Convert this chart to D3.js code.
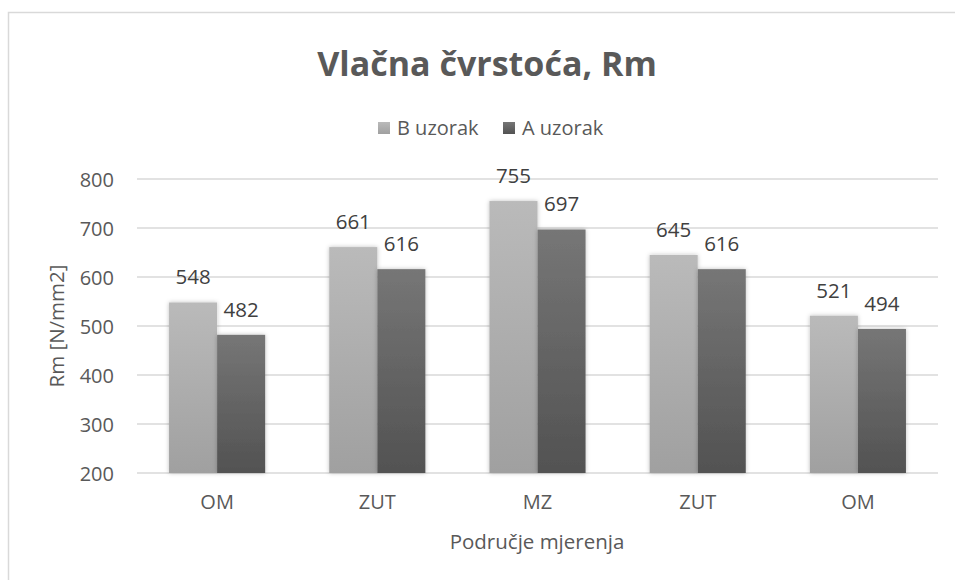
<!DOCTYPE html>
<html>
<head>
<meta charset="utf-8">
<script src="https://cdn.jsdelivr.net/npm/d3@7"></script>
<style>
  body { margin: 0; background: #fff; }
  svg { display: block; font-family: "Open Sans", sans-serif; }
</style>
</head>
<body>
<svg id="chart" width="955" height="580"></svg>
<script>
// data
var categories = ["OM", "ZUT", "MZ", "ZUT", "OM"];
var seriesNames = ["B uzorak", "A uzorak"];
var seriesB = [548, 661, 755, 645, 521];
var seriesA = [482, 616, 697, 616, 494];
var yTicks = [200, 300, 400, 500, 600, 700, 800];

var W = 955, H = 580;
var margin = {left: 137, right: 17, top: 179, bottom: 107};
var svg = d3.select("#chart");

var defs = svg.append("defs");
function grad(id, top, bottom) {
  var g = defs.append("linearGradient").attr("id", id)
      .attr("x1", 0).attr("y1", 0).attr("x2", 0).attr("y2", 1);
  g.append("stop").attr("offset", "0%").attr("stop-color", top);
  g.append("stop").attr("offset", "100%").attr("stop-color", bottom);
}
grad("gB", "#bababa", "#a0a0a0");
grad("gA", "#767676", "#525252");
var colors = ["url(#gB)", "url(#gA)"];

var shadow = defs.append("filter").attr("id", "shadow")
    .attr("x", "-20%").attr("y", "-10%").attr("width", "140%").attr("height", "120%");
shadow.append("feDropShadow").attr("dx", 0).attr("dy", 0).attr("stdDeviation", 2)
    .attr("flood-color", "#000").attr("flood-opacity", 0.25);

// chart frame (clipped by the picture at right and bottom)
svg.append("rect")
   .attr("x", 8.5).attr("y", 12.5).attr("width", 960).attr("height", 600)
   .attr("fill", "#fff").attr("stroke", "#d9d9d9").attr("stroke-width", 1.5);

var x0 = d3.scaleBand().domain(d3.range(categories.length))
    .range([margin.left, W - margin.right]).paddingInner(0.4).paddingOuter(0.2);
var x1 = d3.scaleBand().domain(d3.range(seriesNames.length))
    .range([0, x0.bandwidth()]);
var y = d3.scaleLinear().domain([200, 800]).range([H - margin.bottom, margin.top]);

// gridlines
svg.append("g").selectAll("line")
   .data(yTicks).enter().append("line")
   .attr("x1", margin.left).attr("x2", W - margin.right)
   .attr("y1", function(d) { return y(d); }).attr("y2", function(d) { return y(d); })
   .attr("stroke", "#d9d9d9").attr("stroke-width", 1.3);

// y axis labels
var yAxis = svg.append("g")
   .attr("transform", "translate(" + (margin.left - 23) + ",0)")
   .call(d3.axisLeft(y).tickValues(yTicks).tickSize(0).tickPadding(0));
yAxis.select(".domain").remove();
yAxis.selectAll("text").attr("fill", "#595959").style("font-size", "20px")
   .style("font-family", "'Open Sans', sans-serif").attr("dy", "0.35em");

// x axis labels
var xAxis = svg.append("g")
   .attr("transform", "translate(0," + y(200) + ")")
   .call(d3.axisBottom(x0).tickFormat(function(i) { return categories[i]; }).tickSize(0).tickPadding(22));
xAxis.select(".domain").remove();
xAxis.selectAll("text").attr("fill", "#595959").style("font-size", "20px")
   .style("font-family", "'Open Sans', sans-serif");

// bars
var rows = categories.map(function(c, i) { return [seriesB[i], seriesA[i]]; });
var groups = svg.append("g").selectAll("g")
   .data(rows).enter().append("g")
   .attr("transform", function(d, i) { return "translate(" + x0(i) + ",0)"; });

groups.selectAll("rect")
   .data(function(d) { return d; }).enter().append("rect")
   .attr("x", function(d, j) { return x1(j); })
   .attr("y", function(d) { return y(d); })
   .attr("width", x1.bandwidth())
   .attr("height", function(d) { return y(200) - y(d); })
   .attr("fill", function(d, j) { return colors[j]; })
   .attr("filter", "url(#shadow)");

groups.selectAll("text")
   .data(function(d) { return d; }).enter().append("text")
   .attr("x", function(d, j) { return x1(j) + x1.bandwidth() / 2; })
   .attr("y", function(d) { return y(d) - 18; })
   .attr("text-anchor", "middle")
   .attr("fill", "#404040").style("font-size", "20.5px")
   .text(function(d) { return d; });

// title
svg.append("text")
   .attr("x", 487).attr("y", 76).attr("text-anchor", "middle")
   .attr("fill", "#595959").style("font-size", "34px").style("font-weight", "bold")
   .text("Vlačna čvrstoća, Rm");

// legend
var legend = svg.append("g").selectAll("g")
   .data(seriesNames).enter().append("g")
   .attr("transform", function(d, i) { return "translate(" + (378 + i * 125) + ",122)"; });
legend.append("rect").attr("width", 12).attr("height", 12)
   .attr("fill", function(d, i) { return colors[i]; });
legend.append("text").attr("x", 19).attr("y", 12.5)
   .attr("fill", "#595959").style("font-size", "20px")
   .text(function(d) { return d; });

// axis titles
svg.append("text")
   .attr("transform", "translate(64," + ((y(200) + y(800)) / 2) + ") rotate(-90)")
   .attr("text-anchor", "middle").attr("fill", "#595959").style("font-size", "20.5px")
   .text("Rm [N/mm2]");

svg.append("text")
   .attr("x", 537).attr("y", 549).attr("text-anchor", "middle")
   .attr("fill", "#595959").style("font-size", "20.5px")
   .text("Područje mjerenja");
</script>
</body>
</html>
